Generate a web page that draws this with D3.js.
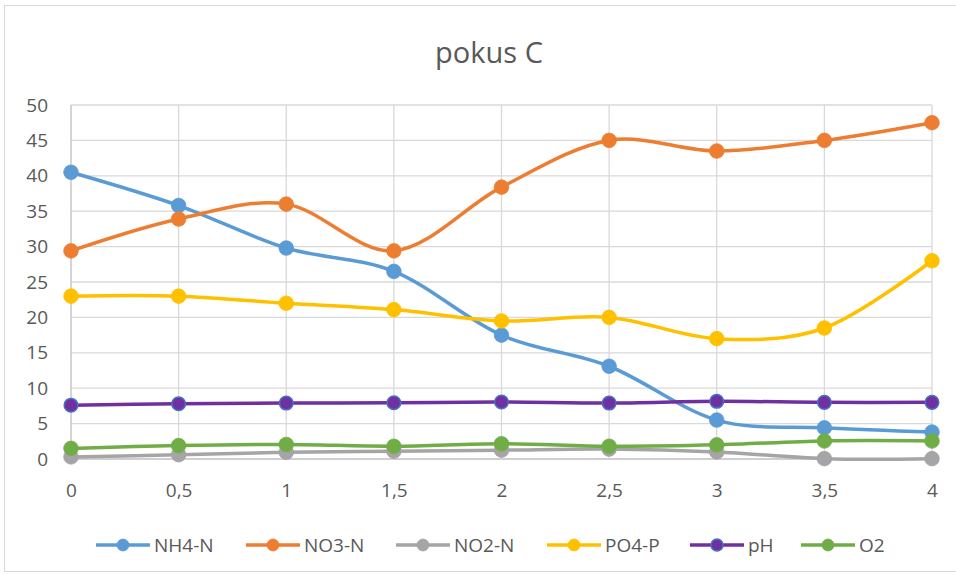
<!DOCTYPE html>
<html>
<head>
<meta charset="utf-8">
<script src="https://cdn.jsdelivr.net/npm/d3@7"></script>
<style>
  body { margin: 0; background: #fff; }
  text { font-family: "Liberation Sans Narrow", "Open Sans", sans-serif; fill: #595959; }
</style>
</head>
<body>
<script>
/* pokus C - line chart */
var categories = ["0", "0,5", "1", "1,5", "2", "2,5", "3", "3,5", "4"];
var yTicks = [0, 5, 10, 15, 20, 25, 30, 35, 40, 45, 50];

var nh4 = [40.5, 35.8, 29.8, 26.5, 17.5, 13.1, 5.5, 4.4, 3.8];
var no3 = [29.4, 33.9, 36.0, 29.4, 38.4, 45.0, 43.5, 45.0, 47.5];
var no2 = [0.3, 0.6, 0.95, 1.1, 1.25, 1.4, 1.0, 0.05, 0.05];
var po4 = [23.0, 23.0, 22.0, 21.1, 19.5, 20.0, 17.0, 18.5, 28.0];
var ph  = [7.6, 7.8, 7.9, 7.95, 8.05, 7.9, 8.15, 8.0, 8.0];
var o2  = [1.5, 1.9, 2.05, 1.8, 2.15, 1.8, 2.0, 2.55, 2.55];

var seriesNames = ["NH4-N", "NO3-N", "NO2-N", "PO4-P", "pH", "O2"];
var seriesData = [nh4, no3, no2, po4, ph, o2];
var colors = ["#5B9BD5", "#ED7D31", "#A5A5A5", "#FFC000", "#7030A0", "#70AD47"];
var markerStroke = ["#5B9BD5", "#ED7D31", "#A5A5A5", "#FFC000", "#4472C4", "#70AD47"];

var W = 956, H = 575;
var svg = d3.select("body").append("svg").attr("width", W).attr("height", H);

// chart frame
svg.append("rect")
   .attr("x", 4.5).attr("y", 5.5)
   .attr("width", 960).attr("height", 566)
   .attr("fill", "#fff").attr("stroke", "#D9D9D9");

svg.append("text")
   .attr("x", 489).attr("y", 63)
   .attr("text-anchor", "middle")
   .style("font-size", "29px")
   .text("pokus C");

var x = d3.scalePoint().domain(categories).range([71, 932]);
var y = d3.scaleLinear().domain([0, 50]).range([459, 105]);

// grid
svg.append("g").selectAll("line")
   .data(yTicks).enter().append("line")
   .attr("x1", 71).attr("x2", 932)
   .attr("y1", function(d) { return y(d); })
   .attr("y2", function(d) { return y(d); })
   .attr("stroke", function(d) { return d == 0 ? "#BFBFBF" : "#D9D9D9"; })
   .attr("stroke-width", 1.3);

svg.append("g").selectAll("line")
   .data(categories).enter().append("line")
   .attr("x1", function(d) { return x(d); })
   .attr("x2", function(d) { return x(d); })
   .attr("y1", 105).attr("y2", 459)
   .attr("stroke", function(d, i) { return i == 0 ? "#BFBFBF" : "#D9D9D9"; })
   .attr("stroke-width", 1.3);

// axes labels
var yAxis = d3.axisLeft(y).tickValues(yTicks).tickSize(0).tickPadding(0);
var gy = svg.append("g").attr("transform", "translate(48,0)").call(yAxis);
gy.select(".domain").remove();
gy.selectAll("text").style("font-size", "19px").style("font-family", null).attr("fill", null);

var xAxis = d3.axisBottom(x).tickSize(0).tickPadding(0);
var gx = svg.append("g").attr("transform", "translate(0,483)").call(xAxis);
gx.select(".domain").remove();
gx.selectAll("text").style("font-size", "19px").style("font-family", null).attr("fill", null);

// lines
var line = d3.line()
   .x(function(d, i) { return x(categories[i]); })
   .y(function(d) { return y(d); })
   .curve(d3.curveCardinal.tension(0));

seriesData.forEach(function(vals, s) {
  var g = svg.append("g");
  g.append("path")
   .datum(vals)
   .attr("d", line)
   .attr("fill", "none")
   .attr("stroke", colors[s])
   .attr("stroke-width", 3.5)
   .attr("stroke-linecap", "round");
  g.selectAll("circle")
   .data(vals).enter().append("circle")
   .attr("cx", function(d, i) { return x(categories[i]); })
   .attr("cy", function(d) { return y(d); })
   .attr("r", s == 4 ? 6.8 : 7.3)
   .attr("fill", colors[s])
   .attr("stroke", markerStroke[s])
   .attr("stroke-width", s == 4 ? 1.5 : 0.8);
});

// legend
var legendX = [96, 246, 396, 547, 690, 801];
var legend = svg.append("g").selectAll("g")
   .data(seriesNames).enter().append("g")
   .attr("transform", function(d, i) { return "translate(" + legendX[i] + ",545)"; });
legend.append("line")
   .attr("x1", 0).attr("x2", 54).attr("y1", 0).attr("y2", 0)
   .attr("stroke", function(d, i) { return colors[i]; })
   .attr("stroke-width", 3.5);
legend.append("circle")
   .attr("cx", 27).attr("cy", 0).attr("r", 6)
   .attr("fill", function(d, i) { return colors[i]; })
   .attr("stroke", function(d, i) { return markerStroke[i]; })
   .attr("stroke-width", function(d, i) { return i == 4 ? 1.5 : 0.8; });
legend.append("text")
   .attr("x", 58).attr("y", 7)
   .style("font-size", "19px")
   .text(function(d) { return d; });
</script>
</body>
</html>
